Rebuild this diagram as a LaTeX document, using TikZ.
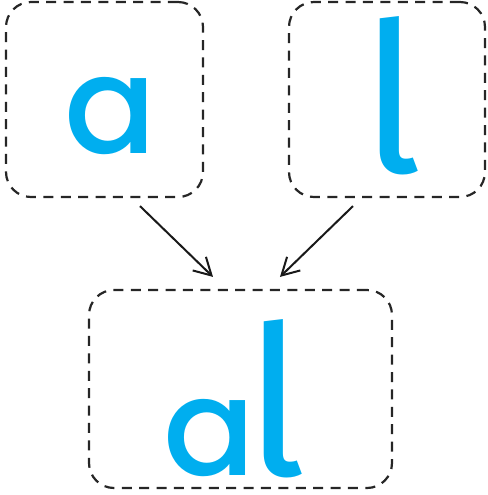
\documentclass[tikz,border=0pt]{standalone}
\usepackage{fontspec}
\usepackage{tikz}
\usetikzlibrary{calc,arrows.meta}
\newfontfamily\afont{Poppins Medium}
\newfontfamily\lfont{Fira Sans}
\definecolor{lettercyan}{HTML}{00AEEF}

\begin{document}
\begin{tikzpicture}[
    x=0.5pt, y=-0.5pt,
    tile/.style={rectangle, draw=black!85, line width=1.1pt, dash pattern=on 5pt off 3.7pt, rounded corners=12.5pt, minimum height=97.5pt, inner sep=0pt},
    glyph/.style={text=lettercyan, anchor=base, inner sep=0pt},
    arrow/.style={-{Straight Barb[length=8.5pt,width=9.5pt]}, line width=1pt, black!90}
]
\useasboundingbox (0,0) rectangle (488,495);

\node[tile, minimum width=98.5pt] (boxa) at (104.5,99.5) {};
\node[tile, minimum width=98pt] (boxl) at (387,99.5) {};
\node[tile, minimum width=151.5pt, minimum height=99pt] (boxal) at (240.5,389) {};

\node[glyph] (leta) at (111,153) {\afont\fontsize{68}{68}\selectfont a};
\node[glyph] (letl) at (392,172) {\lfont\fontsize{104}{104}\selectfont l};
\node[glyph] (letal) at (235,475) {{\afont\fontsize{68}{68}\selectfont a}\kern-5pt{\lfont\fontsize{104}{104}\selectfont l}};

\draw[arrow] ($(boxa.south)+(35.5,8)$) -- ($(boxal.north)+(-27.5,-12)$);
\draw[arrow] ($(boxl.south)+(-34,8)$) -- ($(boxal.north)+(39.5,-12)$);
\end{tikzpicture}
\end{document}
